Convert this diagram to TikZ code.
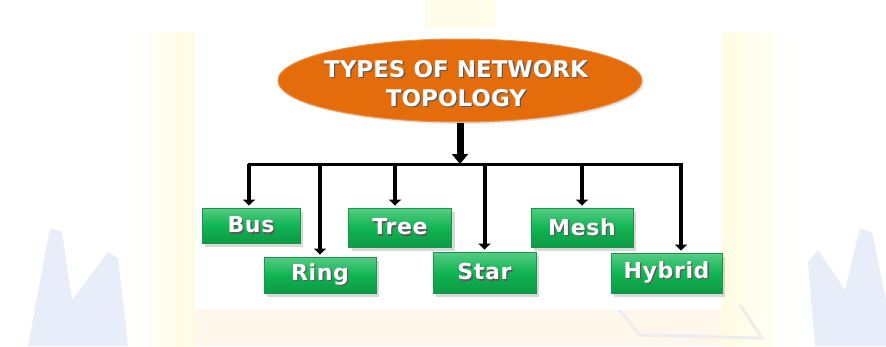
\documentclass[tikz,border=0pt]{standalone}
\usepackage{fontspec}
\newfontfamily\topofont{DejaVu Sans}
\newfontfamily\kindfont[LetterSpace=3]{DejaVu Sans}
\usetikzlibrary{arrows.meta,shapes.geometric,shadows}
\definecolor{topoorange}{HTML}{E46C0A}
\definecolor{kindgreen}{HTML}{10B552}
\definecolor{paleyellow}{HTML}{FFFCE0}
\definecolor{paleblue}{HTML}{E8EEF9}
% white letters with a dark shadow
\newcommand{\shtxt}[1]{\makebox[0pt][l]{\hspace{1.3pt}\raisebox{-1.3pt}{\color{black!65}#1}}#1}
\begin{document}
\begin{tikzpicture}[x=1pt,y=-1pt,
  kind/.style={rectangle,inner sep=0pt,text=white,font=\kindfont\bfseries\fontsize{22}{26}\selectfont,
    top color=kindgreen!70!white,bottom color=kindgreen!85!black,middle color=kindgreen,
    draw=kindgreen!85!black,line width=.8pt,
    drop shadow={shadow xshift=3pt,shadow yshift=-4pt,opacity=.3}},
  branch/.style={line width=4pt,-{Stealth[length=6pt,width=12pt,inset=0pt]},shorten >=2pt},
  busline/.style={line width=3pt,line cap=rect}]
\useasboundingbox (0,0) rectangle (886,346);
% faint backdrop
\fill[white] (0,0) rectangle (886,346);
\fill[paleyellow,opacity=.7] (425,0) rectangle (495,28);
\shade[left color=white,right color=paleyellow] (130,32) rectangle (195,346);
\shade[left color=paleyellow,right color=white] (722,32) rectangle (790,346);
\fill[paleyellow!80!orange!50,opacity=.5] (195,310) rectangle (722,346);
\fill[paleblue] (28,346) -- (50,228) -- (62,232) -- (72,300) -- (108,252) -- (118,258) -- (128,346) -- cycle;
\fill[paleblue] (808,262) -- (818,250) -- (845,290) -- (860,228) -- (872,232) -- (886,300) -- (886,346) -- (815,346) -- cycle;
\draw[black!7,line width=3pt] (615,305) -- (640,335) -- (762,338) -- (740,305);
\fill[white] (195,30) rectangle (722,310);

\node[ellipse,inner sep=0pt,minimum width=364pt,minimum height=83pt,fill=topoorange,
  draw=topoorange!75!white,line width=1pt,
  drop shadow={shadow xshift=2pt,shadow yshift=-2pt,opacity=.2}] (topo) at (460,80.5) {};
\node[text=white,align=center,font=\topofont\bfseries\fontsize{23}{29}\selectfont]
  (topotext) at (456,84) {\shtxt{TYPES OF NETWORK}\\\shtxt{TOPOLOGY}};

\node[kind,minimum width=98pt,minimum height=35pt] (bus) at (251,225.5) {\shtxt{Bus}};
\node[kind,minimum width=112pt,minimum height=36pt] (ring) at (320,275) {\shtxt{Ring}};
\node[kind,minimum width=103pt,minimum height=39pt] (tree) at (400,227.5) {\shtxt{Tree}};
\node[kind,minimum width=103pt,minimum height=41pt] (star) at (484.5,272.5) {\shtxt{Star}};
\node[kind,minimum width=102pt,minimum height=39pt] (mesh) at (582,227.5) {\shtxt{Mesh}};
\node[kind,minimum width=111pt,minimum height=40pt] (hybrid) at (666.5,273) {\shtxt{Hybrid}};

\coordinate (busL) at (249,164);
\coordinate (busR) at (681,164);
\draw[busline] (busL) -- (busR);
\draw[line width=7pt,-{Stealth[length=10pt,width=16pt,inset=0pt]}] (topo.south) -- (topo.south |- busL);

\draw[branch] (busL) -- (busL |- bus.north);
\draw[branch] (ring.north |- busL) -- (ring.north);
\draw[branch] ([xshift=-5pt]tree.north |- busL) -- ([xshift=-5pt]tree.north);
\draw[branch] (star.north |- busL) -- (star.north);
\draw[branch] (mesh.north |- busL) -- (mesh.north);
\draw[branch] (busR) -- (busR |- hybrid.north);
\end{tikzpicture}
\end{document}
